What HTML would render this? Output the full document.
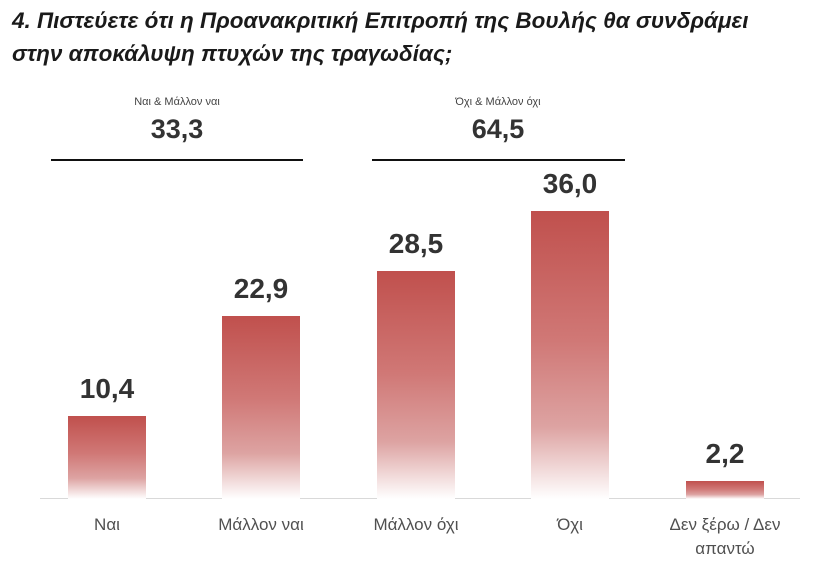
<!DOCTYPE html>
<html><head><meta charset="utf-8"><style>
body{margin:0;width:820px;height:574px;background:#fff;position:relative;overflow:hidden;font-family:"Liberation Sans","DejaVu Sans",sans-serif}
.t{position:absolute;left:12px;top:4px;font-size:22.5px;font-weight:bold;font-style:italic;color:#1a1a1a;line-height:33px;white-space:nowrap}
.bar{position:absolute;width:78px;bottom:75px;background:linear-gradient(#c0504d 0%,#d07876 45%,#dda3a2 75%,#fff 100%)}
.v{position:absolute;width:120px;text-align:center;font-weight:bold;font-size:28px;color:#333}
.l{position:absolute;width:150px;text-align:center;font-size:17px;color:#505050;line-height:24px}
.s{position:absolute;width:200px;text-align:center;font-size:11px;color:#444}
.hl{position:absolute;height:2px;background:#111;top:159px}
</style></head><body>
<div class="t">4. Πιστεύετε ότι η Προανακριτική Επιτροπή της Βουλής θα συνδράμει<br>στην αποκάλυψη πτυχών της τραγωδίας;</div>
<div class="s" style="left:77px;top:96px">Ναι &amp; Μάλλον ναι</div>
<div class="v" style="left:117px;top:114px;font-size:27px">33,3</div>
<div class="hl" style="left:51px;width:252px"></div>
<div class="s" style="left:398px;top:96px">Όχι &amp; Μάλλον όχι</div>
<div class="v" style="left:438px;top:114px;font-size:27px">64,5</div>
<div class="hl" style="left:372px;width:253px"></div>
<div style="position:absolute;left:40px;width:760px;top:498px;height:1px;background:#d9d9d9"></div>
<div class="bar" style="left:68px;top:416px"></div>
<div class="bar" style="left:222px;top:316px"></div>
<div class="bar" style="left:377px;top:271px"></div>
<div class="bar" style="left:531px;top:211px"></div>
<div class="bar" style="left:686px;top:481px"></div>
<div class="v" style="left:47px;top:373px">10,4</div>
<div class="v" style="left:201px;top:273px">22,9</div>
<div class="v" style="left:356px;top:228px">28,5</div>
<div class="v" style="left:510px;top:168px">36,0</div>
<div class="v" style="left:665px;top:438px">2,2</div>
<div class="l" style="left:32px;top:513px">Ναι</div>
<div class="l" style="left:186px;top:513px">Μάλλον ναι</div>
<div class="l" style="left:341px;top:513px">Μάλλον όχι</div>
<div class="l" style="left:495px;top:513px">Όχι</div>
<div class="l" style="left:650px;top:513px">Δεν ξέρω / Δεν<br>απαντώ</div>
</body></html>
